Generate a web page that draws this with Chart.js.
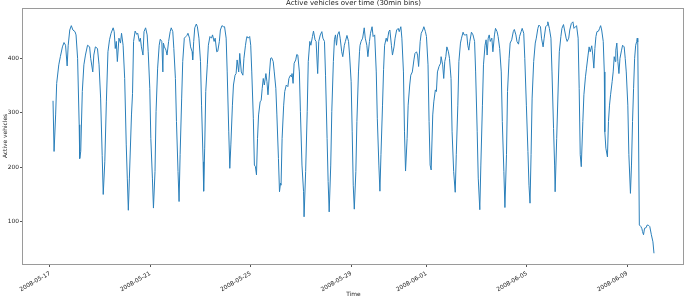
<!DOCTYPE html>
<html><head><meta charset="utf-8">
<script src="https://cdn.jsdelivr.net/npm/chart.js@4"></script>
<style>html,body{margin:0;padding:0;background:#fff;overflow:hidden}</style>
</head><body>
<canvas id="c" width="685" height="298"></canvas>
<script>
// Hours since 2008-05-17 00:00
const hours = [
3,4,5.5,6.5,8.5,10,12,13.5,15,16.5,17.5,19,20.5,22,24,25,26.5,28,28.5,29.5,31,32.5,34,36,38,39,41,42,43.5,45.5,47,48.5,50,51,52.5,54,55.5,57,58.5,60.5,61.5,62.5,63.5,64.5,66,67.5,68.5,70,71.5,73,74,75,76,78,79,
80,81.5,83,84,85.5,86.5,87.5,89,90,91.5,93,94,95.5,96.5,98,99,100.5,101.5,103,104.5,105.5,107,108,108.5,109.5,111,112,113.5,115,116,117.5,118.5,120,121,122.5,123.5,124.5,126,127,128.5,130,131,132,133.5,134.5,136,136.5,137.5,138.5,140,141,142.5,144,145,146.5,147,148,149,150.5,151.5,153,154.5,155.5,157,158,159.5,160.5,162,163,164.5,166,167,168.5,169.5,171,172,173,174.5,175.5,177,178,179,180.5,181.5,183,184.5,185.5,187,188,
188.5,189.5,191,192,193,194.5,195.5,196.5,197.5,198.5,199.5,201,202,203,204,205,206.5,207.5,208.5,210,211,212,213.5,214.5,216,217,218.5,219.5,220.5,221,222,223.5,224.5,226,227.5,228.5,230,231,231.5,232.5,233.5,235,236,237,238.5,239.5,241,242.5,243,244.5,246,247,248.5,249.5,251,252,253.5,254.5,256,257,258.5,260,261,262.5,263.5,265,266,267,268.5,269.5,271,272,273,274,275,276.5,277.5,279,280,281.5,282.5,284,285.5,286.5,288,289,290,291,292.5,293.5,295,296,
296.5,297.5,299,300.5,301.5,303,304,305.5,306.5,308,309,310.5,312,313,314.5,315.5,316.5,318,319,320,321.5,322.5,324,325,326.5,327.5,329,330,331.5,333,334,335.5,336.5,338,339,340,341.5,342.5,344,345,346.5,348,349,350.5,351.5,352.5,354,355,356.5,357.5,359,360,361.5,362.5,363.5,364.5,366,367,368.5,369.5,370.5,372,373.5,374,375.5,376.5,377.5,378.5,379.5,381,382,383.5,384.5,386,387.5,388.5,390,391,392.5,393.5,395,396,397.5,398.5,399.5,400.5,401.5,403,
404.5,406,407,408.5,409.5,411,412,413.5,414.5,416,417,418,419,420,421,422.5,423.5,425,426,427.5,428.5,430,431.5,432.5,434,435,436.5,437.5,439,440,441.5,443,444,445.5,446.5,448,449,450.5,451.5,453,454,455.5,457,458,459,460,461,462.5,464,465,466.5,467.5,469,470,471.5,472.5,474,475.5,476,477.5,479,480,481.5,482.5,483,484.5,486,487,488.5,489.5,491,492,493.5,494.5,496,497,498.5,500,501,502.5,503.5,505,506,507,508,509.5,510.5,
512,513,514.5,515.5,516.5,518,519,520,521,522,523,524.5,525.5,526.5,527.5,529,530,530.5,531.5,533,534,535,536,537.5,538.5,539.5,540.5,541,542,543,544,545,546.5,547.5,549,550,551,552.5,553.5,555,556,557,558,559,560,561,561.5,562,563.5,565,566,566.5,567.5,568.5,570,571,572.5,573.5,575,576.5,577.5
];
const vehicles = [
322,229,296,354,388,403,421,429,424,386,424,452,460,452,449,443,400,278,216,229,339,388,406,424,421,400,375,406,421,418,388,327,222,150,210,320,412,434,446,456,449,418,431,394,437,428,446,424,363,241,180,121,180,296,335,
431,450,444,446,431,437,421,406,449,456,443,412,345,253,180,125,192,302,382,424,435,431,375,428,421,415,406,431,449,456,449,418,363,284,192,137,223,327,394,437,440,442,446,437,421,412,397,431,456,463,458,437,394,314,210,156,235,339,388,424,440,437,443,431,437,412,413,431,452,460,458,458,437,375,265,198,241,314,351,369,372,397,375,409,375,369,400,424,437,
440,437,440,424,375,290,204,201,186,253,296,320,323,345,363,351,372,357,333,375,400,401,394,375,345,296,216,155,171,167,253,314,339,351,348,363,369,366,372,354,391,397,407,406,375,302,204,155,109,192,302,394,431,424,440,450,434,431,372,431,443,449,437,431,369,253,174,118,204,302,394,434,443,424,443,449,437,412,403,424,431,442,431,406,357,265,167,123,192,284,375,412,
424,431,437,456,437,424,403,431,446,458,440,443,375,290,204,156,223,314,379,424,437,431,449,452,424,406,421,437,452,455,449,458,437,375,265,193,253,314,351,369,375,397,409,412,406,385,431,446,452,458,449,440,388,284,204,195,296,320,342,339,375,385,391,403,388,363,394,403,421,412,400,363,265,192,154,223,314,394,428,437,448,443,443,444,424,415,431,448,
443,431,375,265,180,122,204,314,388,424,434,406,437,443,431,437,412,443,455,449,440,418,375,284,192,126,223,339,400,428,434,449,453,443,431,426,440,449,455,446,400,314,229,167,134,223,327,394,428,437,455,461,458,437,421,437,458,461,467,455,437,375,271,204,155,253,351,412,440,455,462,452,437,431,437,452,464,467,455,458,460,437,345,223,201,284,333,
366,382,406,421,412,423,406,382,418,440,449,450,455,460,452,431,375,265,235,219,284,314,333,357,375,403,394,415,428,394,372,400,415,424,421,400,375,314,223,152,204,284,345,400,424,431,437,430,94,91,87,82,76,88,89,94,93,91,76,63,42
];
const xTickHours = [0, 96, 192, 288, 360, 456, 552];
const xTickLabels = ['2008-05-17','2008-05-21','2008-05-25','2008-05-29','2008-06-01','2008-06-05','2008-06-09'];
const yTicks = [100, 200, 300, 400];
const titleText = 'Active vehicles over time (30min bins)';
const xLabel = 'Time';
const yLabel = 'Active vehicles';

const FONT = 'DejaVu Sans';
const TXT = '#222';
const SPINE = '#9a9a9a';

const points = hours.map((h, i) => ({x: h, y: vehicles[i]}));

const framePlugin = {
  id: 'frame',
  afterDraw(chart) {
    const {ctx, chartArea: a} = chart;
    ctx.save();
    ctx.strokeStyle = SPINE;
    ctx.lineWidth = 1;
    ctx.strokeRect(Math.round(a.left) - 0.5, Math.round(a.top) + 0.5,
                   Math.round(a.right - a.left) + 0, Math.round(a.bottom - a.top));
    ctx.fillStyle = TXT;
    ctx.font = '7px "' + FONT + '"';
    ctx.textAlign = 'center';
    ctx.textBaseline = 'middle';
    ctx.fillText(titleText, (a.left + a.right) / 2, 3.5);
    ctx.restore();
  }
};

new Chart(document.getElementById('c'), {
  type: 'line',
  data: { datasets: [{
    data: points,
    borderColor: '#2a7fba',
    borderWidth: 1,
    pointRadius: 0,
    tension: 0,
    fill: false
  }]},
  options: {
    responsive: false,
    devicePixelRatio: 1,
    animation: false,
    layout: { padding: { top: 8, right: 1, left: 0, bottom: 0 } },
    plugins: { legend: { display: false }, tooltip: { enabled: false }, title: { display: false } },
    scales: {
      x: {
        type: 'linear',
        min: -25.7, max: 606.2,
        afterBuildTicks: s => { s.ticks = xTickHours.map(v => ({value: v})); },
        afterFit: s => { s.height = 34; },
        grid: { drawOnChartArea: false, drawTicks: true, tickLength: 3, color: '#555' },
        border: { display: false },
        ticks: {
          autoSkip: false, maxRotation: 30, minRotation: 30, padding: 3,
          font: { family: FONT, size: 5.9 }, color: TXT,
          callback: (v, i) => xTickLabels[i]
        },
        title: { display: true, text: xLabel, font: { family: FONT, size: 5.9 }, color: TXT, padding: { top: 0, bottom: 0 } }
      },
      y: {
        min: 22.3, max: 492.4,
        afterBuildTicks: s => { s.ticks = yTicks.map(v => ({value: v})); },
        afterFit: s => { s.width = 23; },
        grid: { drawOnChartArea: false, drawTicks: true, tickLength: 3, color: '#555' },
        border: { display: false },
        ticks: { padding: 1, font: { family: FONT, size: 5.9 }, color: TXT, callback: v => String(v) },
        title: { display: true, text: yLabel, font: { family: FONT, size: 5.9 }, color: TXT, padding: { top: 2, bottom: 0 } }
      }
    }
  },
  plugins: [framePlugin]
});
</script>
</body></html>
